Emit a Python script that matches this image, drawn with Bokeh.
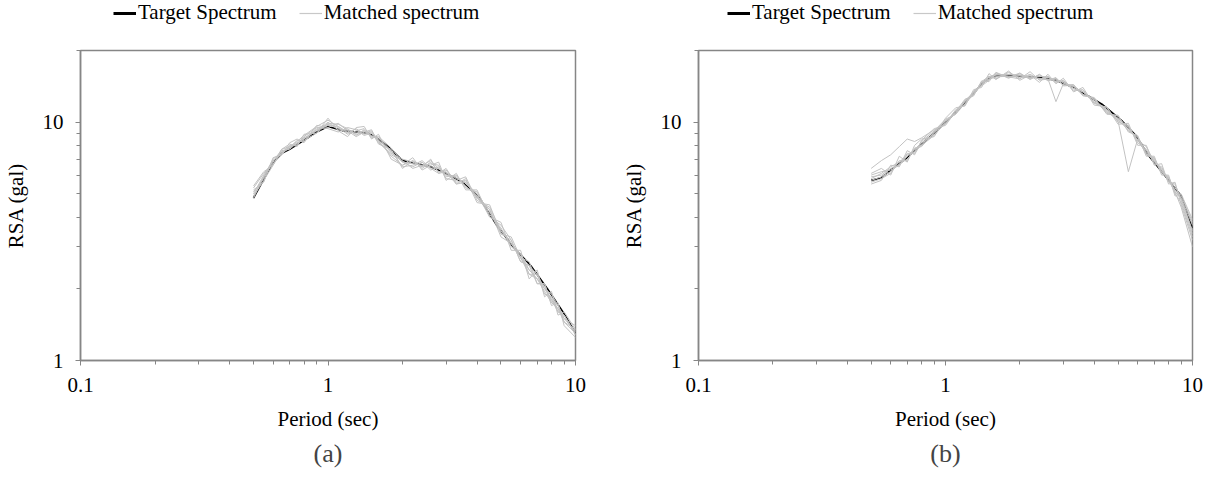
from bokeh.plotting import figure
from bokeh.models import (FixedTicker, CustomJSTickFormatter, Legend, LegendItem,
                          Title, Range1d)
from bokeh.layouts import row, column
from bokeh.embed import file_html
from bokeh.resources import INLINE

# ---------------- data ----------------
target_a_T = [0.5, 0.6, 0.65, 0.7, 0.8, 0.9, 1.0, 1.15, 1.3, 1.45, 1.55, 1.75, 2.0, 2.3, 2.6, 3.0, 3.5, 4.1, 4.8, 5.6, 6.6, 7.7, 8.9, 10.0]
target_a_R = [4.8, 6.8, 7.4, 7.7, 8.4, 9.1, 9.6, 9.2, 9.1, 9.0, 8.7, 7.9, 6.9, 6.7, 6.5, 6.1, 5.6, 4.8, 3.7, 3.0, 2.5, 2.0, 1.6, 1.3]

target_b_T = [0.5, 0.55, 0.6, 0.7, 0.8, 0.9, 1.0, 1.1, 1.2, 1.3, 1.4, 1.5, 1.6, 1.8, 2.0, 2.4, 2.8, 3.3, 3.6, 4.3, 5.2, 5.9, 6.6, 7.7, 9.0, 10.0]
target_b_R = [5.7, 5.85, 6.3, 7.1, 8.1, 9.0, 10.0, 11.0, 12.1, 13.2, 14.5, 15.3, 15.6, 15.7, 15.6, 15.4, 15.0, 14.0, 13.3, 11.9, 10.1, 8.8, 7.3, 6.0, 4.9, 3.6]

periods = [0.5, 0.55, 0.6, 0.65, 0.7, 0.75, 0.8, 0.9, 1.0, 1.1, 1.2, 1.3, 1.4, 1.5, 1.6, 1.8, 2.0, 2.2, 2.4, 2.6, 2.8, 3.0, 3.3, 3.6, 4.0, 4.5, 5.0, 5.5, 6.0, 6.5, 7.0, 7.5, 8.0, 8.5, 9.0, 10.0]

matched_a1 = [5.0, 6.0, 6.9, 7.4, 7.9, 8.3, 8.8, 9.6, 10.2, 9.6, 9.0, 9.4, 8.9, 9.1, 8.4, 7.2, 6.6, 6.9, 6.4, 6.8, 6.2, 6.3, 5.6, 5.7, 4.8, 4.3, 3.4, 3.2, 2.6, 2.5, 2.1, 2.1, 1.75, 1.7, 1.45, 1.35]
matched_a2 = [4.9, 5.7, 6.6, 7.6, 7.7, 8.2, 8.4, 9.0, 9.9, 9.8, 9.4, 8.8, 9.3, 8.6, 8.7, 7.8, 6.8, 6.5, 6.8, 6.3, 6.5, 5.9, 6.0, 5.3, 5.1, 4.1, 3.6, 3.0, 2.8, 2.3, 2.3, 1.9, 1.85, 1.6, 1.55, 1.28]
matched_a3 = [5.3, 6.1, 6.7, 7.3, 8.0, 8.0, 8.7, 9.5, 9.4, 9.1, 9.5, 9.3, 8.8, 9.0, 8.2, 7.4, 7.0, 6.8, 6.5, 6.7, 6.6, 5.8, 5.7, 5.9, 4.7, 4.4, 3.5, 3.1, 2.8, 2.4, 2.2, 2.05, 1.8, 1.6, 1.55, 1.3]
matched_a4 = [4.8, 5.9, 7.0, 7.5, 7.8, 8.4, 8.3, 9.4, 9.8, 9.5, 8.9, 9.2, 9.4, 8.7, 8.6, 7.6, 6.5, 6.6, 6.9, 6.4, 6.1, 6.4, 5.5, 5.6, 5.0, 4.0, 3.7, 3.2, 2.6, 2.5, 2.3, 2.0, 1.9, 1.7, 1.5, 1.4]
matched_a5 = [5.1, 5.8, 6.8, 7.7, 7.9, 8.1, 8.6, 9.2, 10.0, 9.3, 9.3, 8.9, 9.0, 9.2, 8.3, 7.3, 6.9, 6.4, 6.6, 6.9, 6.4, 6.0, 5.9, 5.4, 4.9, 4.3, 3.3, 3.1, 2.7, 2.3, 2.2, 1.95, 1.75, 1.65, 1.45, 1.3]
matched_a6 = [4.9, 5.9, 6.9, 7.4, 7.8, 8.2, 8.5, 9.3, 9.7, 9.6, 9.1, 9.0, 9.2, 8.8, 8.5, 7.5, 6.8, 6.7, 6.6, 6.5, 6.4, 6.1, 5.8, 5.6, 4.9, 4.2, 3.5, 3.1, 2.7, 2.4, 2.2, 2.0, 1.8, 1.65, 1.5, 1.32]
matched_a7 = [5.4, 6.2, 6.6, 7.7, 8.1, 7.9, 8.9, 9.0, 10.4, 9.2, 8.7, 9.5, 9.6, 8.5, 8.9, 7.0, 6.6, 7.1, 6.3, 6.6, 6.8, 5.7, 6.1, 5.2, 5.2, 4.0, 3.8, 2.9, 2.9, 2.2, 2.4, 1.85, 1.95, 1.55, 1.6, 1.35]
matched_a8 = [5.2, 5.6, 7.1, 7.3, 8.2, 8.5, 8.2, 9.7, 9.5, 9.9, 9.2, 8.7, 9.1, 9.3, 8.1, 7.7, 6.4, 6.9, 6.5, 7.0, 6.1, 6.2, 5.5, 5.8, 4.6, 4.5, 3.4, 3.3, 2.7, 2.6, 2.1, 2.1, 1.7, 1.75, 1.4, 1.25]

matched_b1 = [5.8, 6.1, 6.5, 6.8, 7.3, 7.5, 8.3, 9.2, 10.3, 10.8, 12.4, 13.0, 14.8, 15.6, 15.2, 16.2, 15.3, 15.9, 15.1, 15.6, 14.6, 15.0, 13.6, 13.7, 12.0, 11.5, 10.0, 9.7, 8.2, 7.7, 6.7, 6.5, 5.6, 5.5, 4.7, 3.4]
matched_b2 = [6.4, 6.9, 7.3, 7.9, 8.5, 8.3, 8.6, 9.3, 9.8, 11.3, 11.8, 13.5, 14.2, 15.0, 16.1, 15.3, 16.0, 15.2, 15.8, 14.9, 15.3, 14.3, 14.4, 13.0, 12.6, 10.9, 10.6, 9.2, 8.7, 7.3, 7.1, 6.1, 5.9, 5.1, 4.8, 3.5]
matched_b3 = [5.6, 5.8, 6.1, 6.9, 6.9, 7.8, 7.9, 9.1, 10.1, 10.9, 12.3, 13.4, 14.3, 15.5, 15.9, 15.5, 15.2, 16.3, 15.0, 15.2, 12.2, 14.5, 14.2, 13.1, 12.5, 11.0, 10.4, 9.5, 8.4, 7.9, 6.8, 6.4, 5.7, 5.2, 4.8, 3.7]
matched_b4 = [5.9, 6.0, 6.4, 6.6, 7.2, 7.7, 8.0, 8.8, 10.0, 11.2, 11.9, 13.3, 14.6, 15.1, 15.8, 15.9, 15.7, 15.3, 15.6, 15.5, 14.8, 14.9, 13.8, 13.5, 12.1, 11.3, 10.1, 6.2, 8.5, 7.6, 7.0, 6.2, 5.9, 5.0, 4.6, 3.3]
matched_b5 = [5.7, 5.9, 6.2, 6.7, 7.0, 7.6, 8.2, 8.9, 9.9, 11.0, 12.2, 13.1, 14.4, 15.4, 15.5, 15.8, 15.8, 15.4, 15.3, 15.1, 15.2, 14.6, 14.1, 13.4, 12.4, 11.1, 10.2, 9.3, 8.6, 7.4, 6.9, 6.3, 5.7, 5.1, 4.4, 3.0]
matched_b6 = [6.0, 6.2, 6.3, 6.6, 7.4, 7.4, 8.1, 9.0, 10.2, 10.8, 12.0, 13.2, 14.7, 15.2, 15.5, 15.6, 15.5, 15.6, 15.2, 15.4, 15.0, 14.8, 13.9, 13.4, 12.2, 11.2, 10.3, 9.5, 8.4, 7.5, 6.9, 6.2, 5.8, 5.3, 4.9, 3.8]
matched_b7 = [6.1, 6.4, 6.0, 7.2, 6.8, 8.0, 8.5, 8.7, 10.4, 11.5, 11.7, 13.7, 14.0, 16.0, 15.1, 16.4, 15.0, 15.8, 14.7, 15.9, 14.5, 15.3, 13.4, 14.0, 11.8, 11.6, 9.8, 9.9, 8.0, 8.0, 6.6, 6.7, 5.5, 5.6, 4.5, 3.2]
matched_b8 = [5.5, 5.7, 6.6, 6.5, 7.6, 7.3, 8.4, 9.4, 9.7, 11.1, 12.5, 12.9, 14.9, 14.8, 16.2, 15.4, 16.1, 15.1, 15.9, 15.0, 15.4, 14.2, 14.3, 12.9, 12.7, 10.8, 10.7, 9.1, 8.8, 7.2, 7.2, 6.0, 6.0, 4.9, 5.0, 3.9]

x_major = [0.1, 1, 10]
x_minor = [0.2, 0.3, 0.4, 0.5, 0.6, 0.7, 0.8, 0.9, 2, 3, 4, 5, 6, 7, 8, 9]
y_major = [1, 10]
y_minor = [2, 3, 4, 5, 6, 7, 8, 9, 20]

legend_labels = ["Target Spectrum", "Matched spectrum"]
x_title = "Period (sec)"
y_title = "RSA (gal)"

FONT = "Liberation Serif"
AX = "#868686"
MATCH = "#c2c2c2"
LEG_H = 45
NAN = float("nan")


def make_legend_fig(width, leg_x):
    lf = figure(width=width, height=LEG_H, output_backend="svg", toolbar_location=None,
                x_axis_location=None, y_axis_location=None,
                x_range=Range1d(0, 1), y_range=Range1d(0, 1),
                min_border_left=0, min_border_right=0, min_border_top=0, min_border_bottom=0)
    lf.grid.visible = False
    lf.outline_line_color = None
    # legend-only renderers (no visible data)
    r1 = lf.line([NAN], [NAN], line_color="black", line_width=3)
    r2 = lf.line([NAN], [NAN], line_color="#c8c8c8", line_width=1.2)
    legend = Legend(items=[LegendItem(label=legend_labels[0], renderers=[r1]),
                           LegendItem(label=legend_labels[1], renderers=[r2])],
                    orientation="horizontal", location=(leg_x, 20),
                    label_text_font=FONT, label_text_font_size="21px",
                    label_text_color="black",
                    border_line_color=None, background_fill_alpha=0,
                    glyph_width=23, glyph_height=20, label_standoff=2,
                    spacing=22, padding=0, margin=0)
    lf.add_layout(legend, "center")
    return lf


def make_panel(width, left, right, tT, tR, matched, tag):
    p = figure(width=width, height=481 - LEG_H, x_axis_type="log", y_axis_type="log",
               x_range=Range1d(0.1, 10), y_range=Range1d(1, 20),
               output_backend="svg", toolbar_location=None,
               min_border_left=left, min_border_right=right,
               min_border_top=50 - LEG_H, min_border_bottom=121)
    p.grid.visible = False
    p.outline_line_color = AX
    p.outline_line_width = 1.5
    p.background_fill_color = "white"
    p.border_fill_color = "white"

    p.line(tT, tR, line_color="black", line_width=1.6)
    for m in matched:
        p.line(periods, m, line_color=MATCH, line_width=1)

    p.xaxis.ticker = FixedTicker(ticks=x_major, minor_ticks=x_minor)
    p.yaxis.ticker = FixedTicker(ticks=y_major, minor_ticks=y_minor)
    fmt = "return String(tick);"
    p.xaxis.formatter = CustomJSTickFormatter(code=fmt)
    p.yaxis.formatter = CustomJSTickFormatter(code=fmt)
    for ax in (p.xaxis, p.yaxis):
        ax.axis_line_color = AX
        ax.axis_line_width = 1.5
        ax.major_tick_line_color = AX
        ax.minor_tick_line_color = AX
        ax.major_tick_in = 0
        ax.major_tick_out = 5
        ax.minor_tick_in = 0
        ax.minor_tick_out = 4
        ax.major_label_text_font = FONT
        ax.major_label_text_font_size = "21px"
        ax.major_label_text_color = "black"
        ax.axis_label_text_font = FONT
        ax.axis_label_text_font_size = "21px"
        ax.axis_label_text_font_style = "normal"
        ax.axis_label_text_color = "black"
        ax.major_label_standoff = 12
        ax.axis_label_standoff = 12
    p.xaxis.axis_label = x_title
    p.yaxis.axis_label = y_title

    p.add_layout(Title(text=tag, align="center", text_font=FONT,
                       text_font_size="26px", text_font_style="normal",
                       standoff=6), "below")
    return p


pa = make_panel(607, 79, 32, target_a_T, target_a_R,
                [matched_a1, matched_a2, matched_a3, matched_a4, matched_a5,
                 matched_a6, matched_a7, matched_a8], "(a)")
pb = make_panel(608, 91, 23, target_b_T, target_b_R,
                [matched_b1, matched_b2, matched_b3, matched_b4, matched_b5,
                 matched_b6, matched_b7, matched_b8], "(b)")

# column aligns frames, so legend x is measured from each panel's frame left edge
la = make_legend_fig(607, 33)
lb = make_legend_fig(608, 29)

layout = row(column(la, pa, spacing=0), column(lb, pb, spacing=0), spacing=0)
open("out.html", "w").write(file_html(layout, INLINE))
